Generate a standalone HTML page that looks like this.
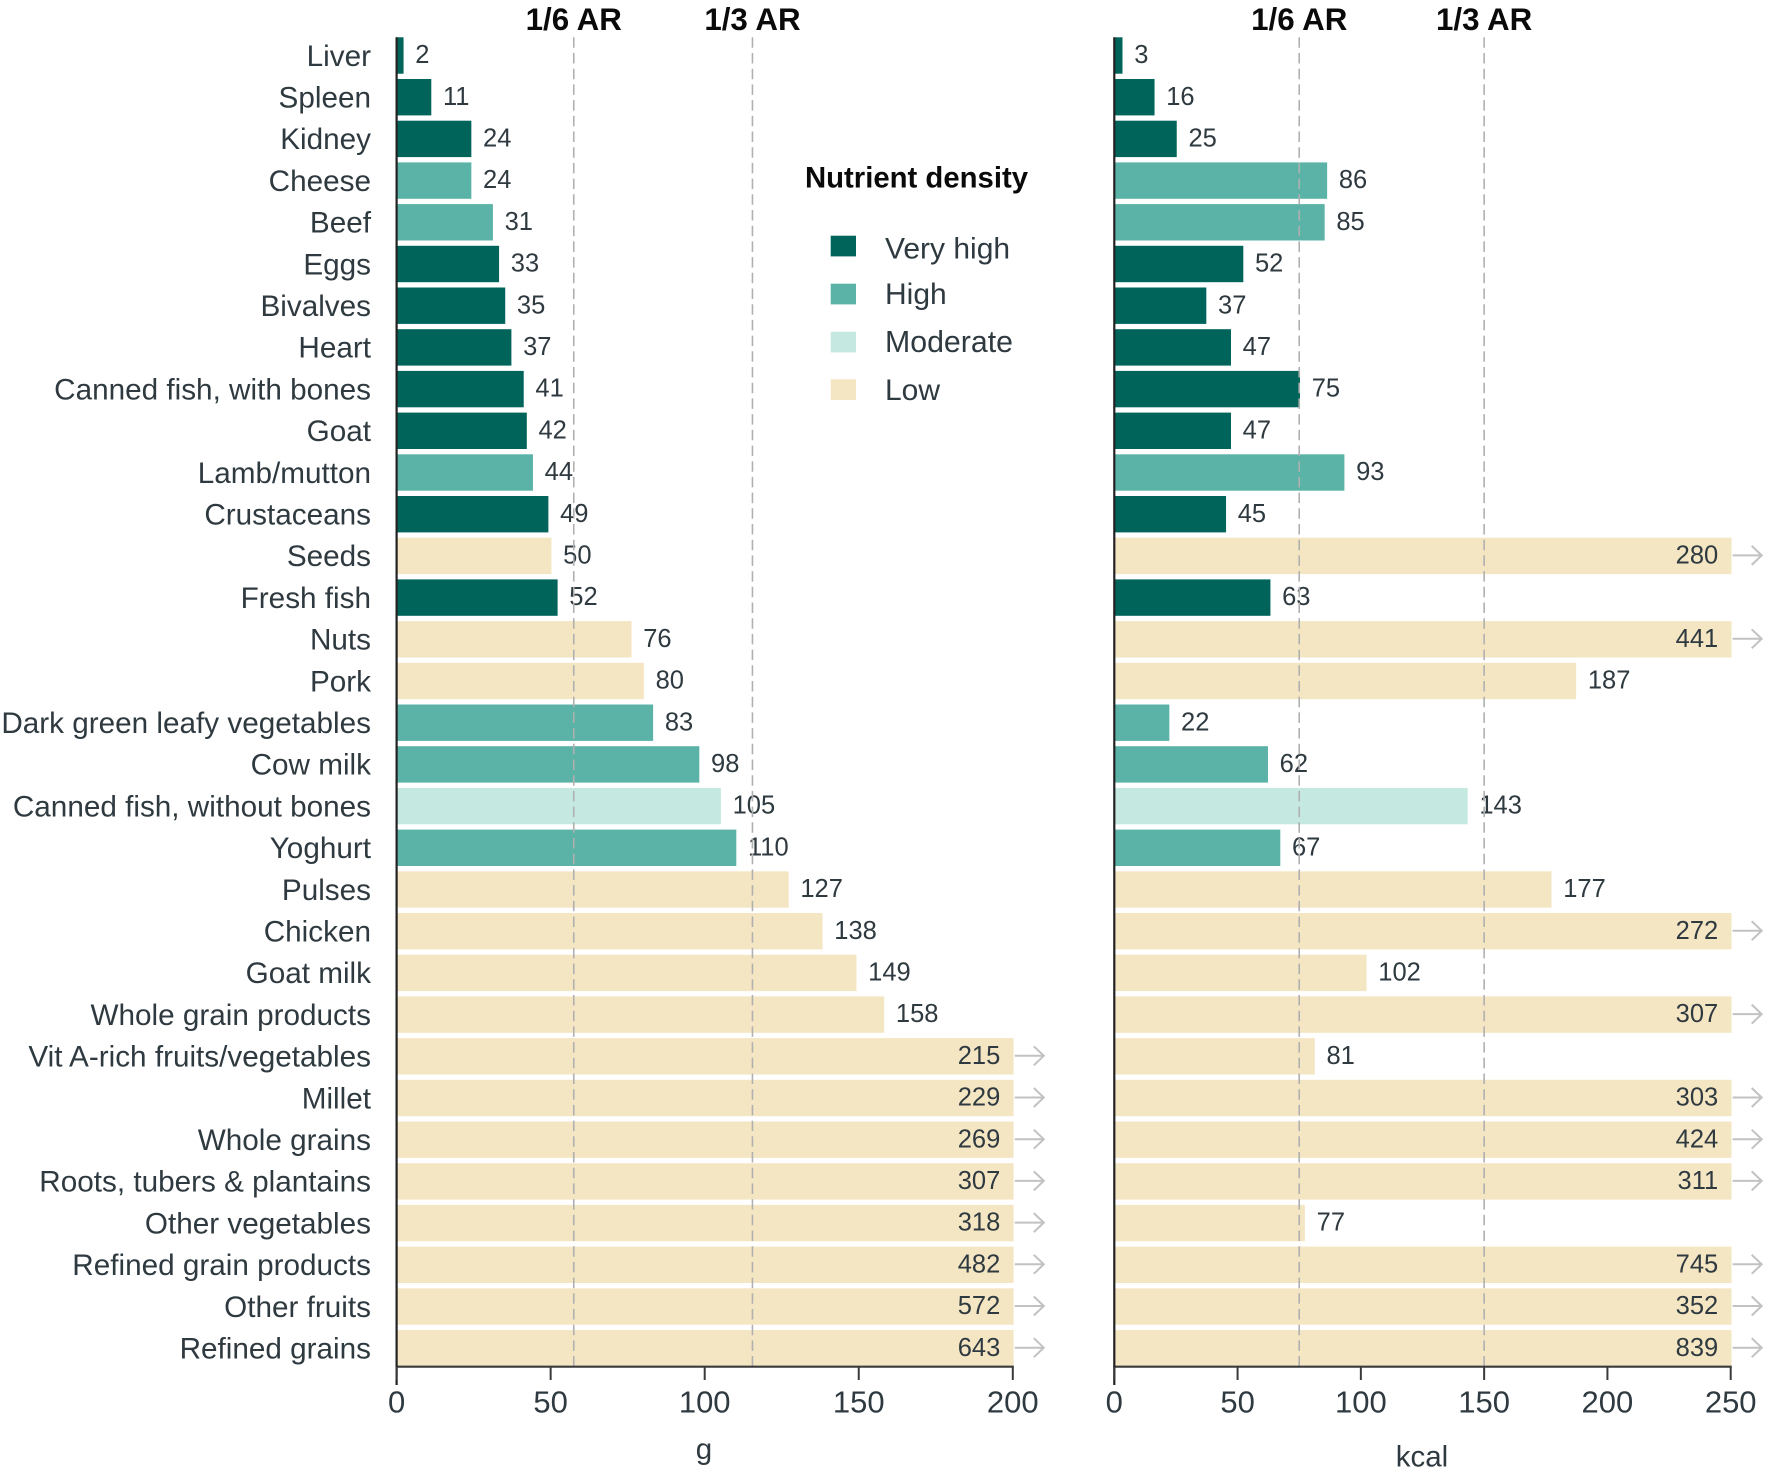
<!DOCTYPE html>
<html lang="en">
<head>
<meta charset="utf-8">
<title>Food portion sizes by nutrient density</title>
<style>
  html, body { margin: 0; padding: 0; background: #fff; }
  body { width: 1772px; height: 1478px; overflow: hidden; }
  svg { display: block; font-family: "Liberation Sans", sans-serif; }
  text { fill: #2f3a40; }
  .bold { font-weight: 700; fill: #0a0a0a; }
</style>
</head>
<body>
<svg id="chart" xmlns="http://www.w3.org/2000/svg" width="1772" height="1478" viewBox="0 0 1772 1478">
  <rect x="0" y="0" width="1772" height="1478" fill="#ffffff"/>
  <g id="left-panel"></g>
  <g id="right-panel"></g>
  <g id="category-labels"></g>
  <g>
    <text class="bold" x="805" y="187.5" font-size="29.3">Nutrient density</text>
    <g>
      <rect x="830.7" y="235.7" width="25.3" height="20.7" fill="#00645a"/>
      <text x="885" y="258.5" font-size="30">Very high</text>
    </g>
    <g>
      <rect x="830.7" y="283.7" width="25.3" height="20.7" fill="#5bb3a8"/>
      <text x="885" y="304" font-size="30">High</text>
    </g>
    <g>
      <rect x="830.7" y="331.7" width="25.3" height="20.7" fill="#c5e8e1"/>
      <text x="885" y="352" font-size="30.3">Moderate</text>
    </g>
    <g>
      <rect x="830.7" y="379.3" width="25.3" height="20.7" fill="#f5e6c3"/>
      <text x="885" y="400" font-size="30">Low</text>
    </g>
  </g>
</svg>
<script>
const categories = ["Liver","Spleen","Kidney","Cheese","Beef","Eggs","Bivalves","Heart","Canned fish, with bones","Goat","Lamb/mutton","Crustaceans","Seeds","Fresh fish","Nuts","Pork","Dark green leafy vegetables","Cow milk","Canned fish, without bones","Yoghurt","Pulses","Chicken","Goat milk","Whole grain products","Vit A-rich fruits/vegetables","Millet","Whole grains","Roots, tubers & plantains","Other vegetables","Refined grain products","Other fruits","Refined grains"];
const gramValues = [2,11,24,24,31,33,35,37,41,42,44,49,50,52,76,80,83,98,105,110,127,138,149,158,215,229,269,307,318,482,572,643];
const kcalValues = [3,16,25,86,85,52,37,47,75,47,93,45,280,63,441,187,22,62,143,67,177,272,102,307,81,303,424,311,77,745,352,839];
const densityLevels = ["very-high","very-high","very-high","high","high","very-high","very-high","very-high","very-high","very-high","high","very-high","low","very-high","low","low","high","high","moderate","high","low","low","low","low","low","low","low","low","low","low","low","low"];
const gramTicks = [0,50,100,150,200];
const kcalTicks = [0,50,100,150,200,250];
const gramRefValues = [57.5,115.5];
const kcalRefValues = [75,150];
const refLabels = ["1/6 AR","1/3 AR"];

const NS = "http://www.w3.org/2000/svg";
const rowTop = 37.3, rowPitch = 41.7, barHeight = 36.4, axisY = 1366.7;
const densityFill = { "very-high": "#00645a", "high": "#5bb3a8", "moderate": "#c5e8e1", "low": "#f5e6c3" };

function make(tag, attrs, parent, content) {
  const el = document.createElementNS(NS, tag);
  for (const k in attrs) el.setAttribute(k, attrs[k]);
  if (content !== undefined) el.textContent = content;
  parent.appendChild(el);
  return el;
}
function rowY(i) { return rowTop + i * rowPitch; }

function drawPanel(parentId, key, values, ticks, refs, x0, x1, domainMax, unit, titleX, titleY) {
  const g = document.getElementById(parentId);
  const scale = v => x0 + (v / domainMax) * (x1 - x0);

  values.forEach((v, i) => {
    const clipped = v > domainMax;
    const end = scale(Math.min(v, domainMax));
    const bar = make("rect", { x: x0, y: rowY(i), width: Math.max(end - x0 + 0.8, 0), height: barHeight, fill: densityFill[densityLevels[i]] }, g);
    
    
    const label = make("text", {
      x: clipped ? end - 12.5 : end + 12.5,
      y: rowY(i) + barHeight / 2 + 7.6,
      "font-size": 25.5,
      "text-anchor": clipped ? "end" : "start"
    }, g, String(v));
    
    
    if (clipped) {
      const cy = rowY(i) + barHeight / 2 - 0.5;
      const arrow = make("path", {
        d: "M" + (end + 2) + " " + cy + "H" + (end + 31) + "M" + (end + 21) + " " + (cy - 9.5) + "L" + (end + 31) + " " + cy + "L" + (end + 21) + " " + (cy + 9.5),
        fill: "none", stroke: "#c2c2c2", "stroke-width": 2
      }, g);
      
      
    }
  });

  refs.forEach((r, i) => {
    const x = scale(r);
    const line = make("line", { x1: x, x2: x, y1: rowTop, y2: axisY, stroke: "#b0b0b0", "stroke-width": 1.6, "stroke-dasharray": "10.5 5.2" }, g);
    
    
    const head = make("text", { x: x, y: 30, "font-size": 31.3, "text-anchor": "middle", class: "bold" }, g, refLabels[i]);
    
    
  });

  const base = make("line", { x1: x0 - 1, x2: x1 + 1, y1: axisY, y2: axisY, stroke: "#3a3a3a", "stroke-width": 2.2 }, g);
  
  
  const spine = make("line", { x1: x0, x2: x0, y1: rowTop, y2: 1385, stroke: "#222222", "stroke-width": 2.2 }, g);
  
  

  ticks.forEach(t => {
    const x = scale(t);
    const tick = make("line", { x1: x, x2: x, y1: axisY, y2: 1380, stroke: "#3a3a3a", "stroke-width": 2 }, g);
    
    
    const lab = make("text", { x: x, y: 1412.7, "font-size": 31, "text-anchor": "middle" }, g, String(t));
    
    
  });

  const title = make("text", { x: titleX, y: titleY, "font-size": 29.5, "text-anchor": "middle" }, g, unit);
  
  
}

const catGroup = document.getElementById("category-labels");
categories.forEach((c, i) => {
  const t = make("text", { x: 371, y: rowY(i) + barHeight / 2 + 10.3, "font-size": 29.7, "text-anchor": "end" }, catGroup, c);
  
  
});

drawPanel("left-panel", "g", gramValues, gramTicks, gramRefValues, 396.6, 1012.8, 200, "g", 704, 1459);
drawPanel("right-panel", "kcal", kcalValues, kcalTicks, kcalRefValues, 1114.3, 1730.7, 250, "kcal", 1422, 1466.5);
</script>
</body>
</html>
